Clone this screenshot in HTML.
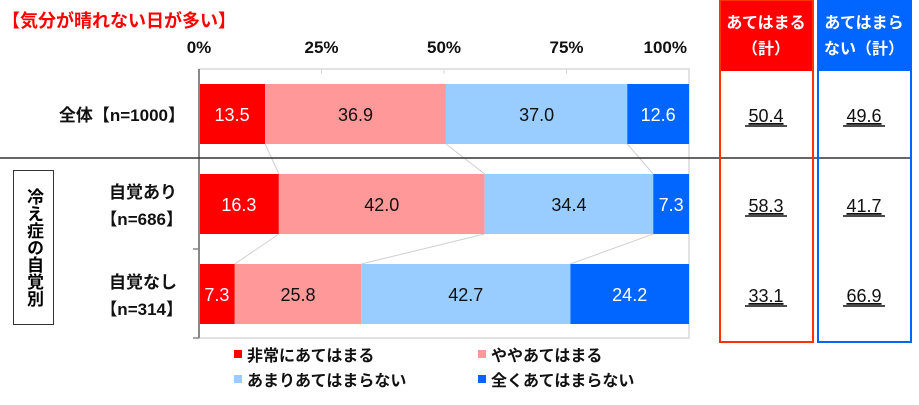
<!DOCTYPE html>
<html><head><meta charset="utf-8">
<style>
body{margin:0;background:#fff;font-family:"Liberation Sans","Noto Sans CJK JP",sans-serif;}
#wrap{position:relative;width:919px;height:405px;overflow:hidden;}
.t{position:absolute;font-weight:bold;white-space:nowrap;}
</style></head><body>
<div id="wrap">
<div class="t" style="left:2px;top:7px;font-size:18px;color:#ff0000;">【気分が晴れない日が多い】</div>
<div class="t" style="left:13px;top:170px;width:39px;height:153px;border:1.5px solid #333;font-size:17px;line-height:21px;text-align:center;writing-mode:vertical-rl;display:flex;align-items:center;justify-content:center;">冷え症の自覚別</div>
<svg id="svg" width="919" height="405" style="position:absolute;left:0;top:0"></svg>
</div>
<script>
const categories=["全体【n=1000】","自覚あり|【n=686】","自覚なし|【n=314】"];
const seriesNames=["非常にあてはまる","ややあてはまる","あまりあてはまらない","全くあてはまらない"];
const s1=[13.5,16.3,7.3];
const s2=[36.9,42.0,25.8];
const s3=[37.0,34.4,42.7];
const s4=[12.6,7.3,24.2];
const totalYes=["50.4","58.3","33.1"];
const totalNo=["49.6","41.7","66.9"];
const ticks=[0,25,50,75,100];
const colors=["#ff0000","#ff9999","#99ccff","#0066ff"];
const textColors=["#fff","#111","#111","#fff"];
const NS="http://www.w3.org/2000/svg";
const svg=document.getElementById('svg');
const X0=199,X1=689;
const x=v=>X0+(X1-X0)*v/100;
const rowTop=[84,174,264],barH=60;
function el(t,a,p){const e=document.createElementNS(NS,t);for(const k in a)e.setAttribute(k,a[k]);(p||svg).appendChild(e);return e;}
// plot frame
let e=el('rect',{x:X0,y:69,width:X1-X0,height:269,fill:'none',stroke:'#d9d9d9','stroke-width':1.5});


ticks.forEach(t=>{
 let l=el('line',{x1:x(t),x2:x(t),y1:69,y2:74,stroke:'#d9d9d9'});
 
 
 let tx=el('text',{x:t===100?x(t)-2:x(t),y:53,'text-anchor':t===100?'end':'middle','font-size':17,'font-weight':'bold',fill:'#111'});
 tx.textContent=t+'%';
 
 
});
const series=[s1,s2,s3,s4];
// connectors
for(let r=0;r<2;r++){let c1=0,c2=0;for(let s=0;s<3;s++){c1+=series[s][r];c2+=series[s][r+1];
 let l=el('line',{x1:x(c1),y1:rowTop[r]+barH,x2:x(c2),y2:rowTop[r+1],stroke:'#d0d0d0','stroke-width':1});
 
 }}
for(let r=0;r<3;r++){let cum=0;
 for(let s=0;s<4;s++){const v=series[s][r];
  let b=el('rect',{x:x(cum),y:rowTop[r],width:x(cum+v)-x(cum),height:barH,fill:colors[s]});
  
  
  let t=el('text',{x:(x(cum)+x(cum+v))/2,y:rowTop[r]+37,'text-anchor':'middle','font-size':18,fill:textColors[s]});
  t.textContent=v.toFixed(1);
  
  
  cum+=v;}
 const parts=categories[r].split('|');
 if(parts.length===1){let t=el('text',{x:185,y:rowTop[r]+37,'text-anchor':'end','font-size':17,'font-weight':'bold',fill:'#111'});t.textContent=parts[0];
  
  }
 else{parts.forEach((p,i)=>{let t=el('text',{x:i?183:177,y:rowTop[r]+24+i*27,'text-anchor':'end','font-size':17,'font-weight':'bold',fill:'#111'});t.textContent=p;
  
  });}
 [[totalYes,766],[totalNo,864]].forEach(([arr,cx])=>{
  let t=el('text',{x:cx,y:rowTop[r]+38,'text-anchor':'middle','font-size':18,fill:'#111','text-decoration':'underline'});
  t.textContent=arr[r];
  
  
  let u=el('line',{x1:cx-21,x2:cx+21,y1:rowTop[r]+42,y2:rowTop[r]+42,stroke:'#111','stroke-width':1.5});
  
  });
}
// axis
e=el('line',{x1:X0,x2:X0,y1:69,y2:338,stroke:'#888','stroke-width':2});


[249,338].forEach(y=>{let l=el('line',{x1:193,x2:X0,y1:y,y2:y,stroke:'#888','stroke-width':1.5});
 
 });
e=el('line',{x1:0,x2:910,y1:158,y2:158,stroke:'#333','stroke-width':1.5});


// total boxes
[[719,'#ff0000','#ff3300',['あてはまる','（計）']],[817,'#0066ff','#0066ff',['あてはまら','ない（計）']]].forEach(([bx,fill,stroke,lines])=>{
 let h=el('rect',{x:bx,y:0,width:94,height:71,fill:fill});
 
 
 let r=el('rect',{x:bx+1,y:0,width:93,height:342,fill:'none',stroke:stroke,'stroke-width':2});
 
 
 lines.forEach((ln,i)=>{let t=el('text',{x:bx+47,y:28+i*26,'text-anchor':'middle','font-size':16,'font-weight':'bold',fill:'#fff'});t.textContent=ln;
  
  });
});
// legend
const lpos=[[234,361],[478,361],[234,386],[478,386]];
seriesNames.forEach((n,i)=>{
 let r=el('rect',{x:lpos[i][0],y:lpos[i][1]-11,width:8,height:8,fill:colors[i]});
 
 
 let t=el('text',{x:lpos[i][0]+13,y:lpos[i][1],'font-size':16,'font-weight':'bold',fill:'#111'});t.textContent=n;
 
 
});
</script>
</body></html>
